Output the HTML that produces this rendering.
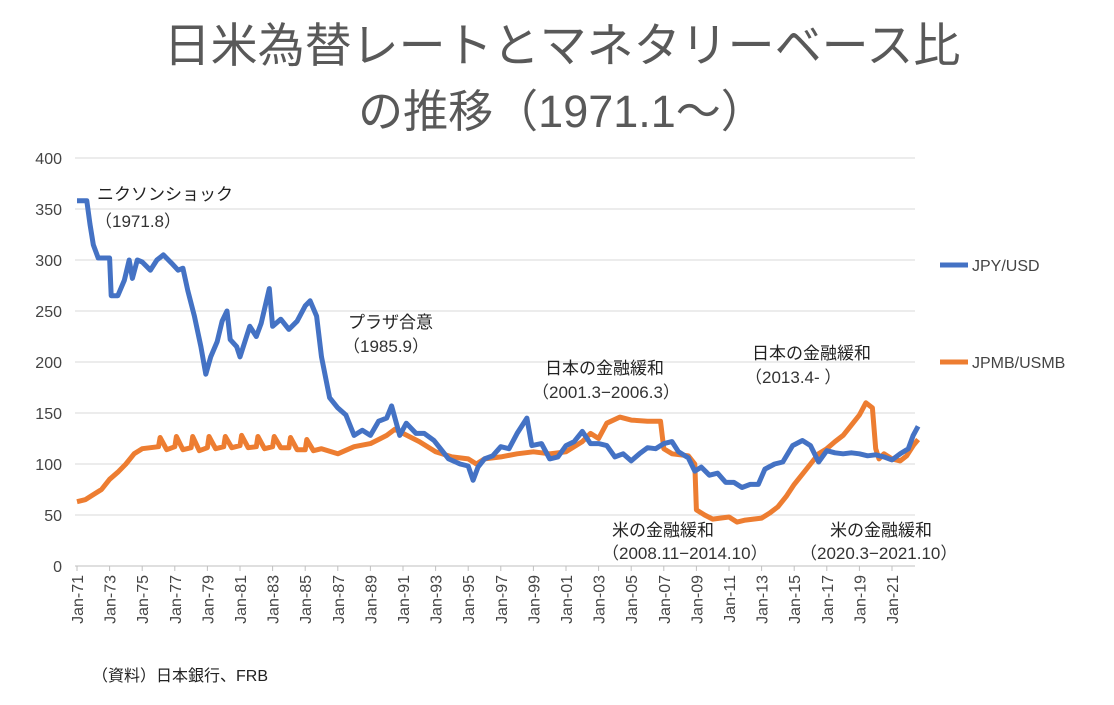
<!DOCTYPE html>
<html><head><meta charset="utf-8">
<style>
html,body{margin:0;padding:0;background:#fff;}
body{width:1114px;height:700px;overflow:hidden;font-family:"Liberation Sans","Noto Sans CJK JP",sans-serif;}
</style></head>
<body>
<svg id="chart" width="1114" height="700" xmlns="http://www.w3.org/2000/svg" font-family="Liberation Sans, Noto Sans CJK JP, sans-serif">
<text x="562" y="62" font-size="47" fill="#595959" text-anchor="middle">日米為替レートとマネタリーベース比</text>
<text x="562" y="127" font-size="45" fill="#595959" text-anchor="middle">の推移（1971.1～）</text>
<g id="grid"></g>
<g id="yticks"></g>
<g id="xticks"></g>
<g id="series"></g>
<g font-size="17" fill="#222">
<text x="97" y="200">ニクソンショック</text>
<text x="95" y="227" fill="#333">（1971.8）</text>
<text x="348" y="328">プラザ合意</text>
<text x="343" y="352" fill="#333">（1985.9）</text>
<text x="545" y="374">日本の金融緩和</text>
<text x="532" y="398" fill="#333">（2001.3−2006.3）</text>
<text x="752" y="359">日本の金融緩和</text>
<text x="745" y="383" fill="#333">（2013.4-  ）</text>
<text x="612" y="536">米の金融緩和</text>
<text x="602" y="559" fill="#333">（2008.11−2014.10）</text>
<text x="830" y="536">米の金融緩和</text>
<text x="800" y="559" fill="#333">（2020.3−2021.10）</text>
</g>
<g font-size="16" fill="#444">
<line x1="940" y1="265" x2="968" y2="265" stroke="#4472C4" stroke-width="5"/>
<text x="972" y="271">JPY/USD</text>
<line x1="940" y1="362" x2="968" y2="362" stroke="#ED7D31" stroke-width="5"/>
<text x="972" y="368">JPMB/USMB</text>
</g>
<text x="92" y="681" font-size="16" fill="#222">（資料）日本銀行、FRB</text>
</svg>
<script>
const yTicks=[0,50,100,150,200,250,300,350,400];
const xTickYears=[1971,1973,1975,1977,1979,1981,1983,1985,1987,1989,1991,1993,1995,1997,1999,2001,2003,2005,2007,2009,2011,2013,2015,2017,2019,2021];
const jpyT=[1971.0,1971.6,1971.8,1972.0,1972.3,1973.0,1973.1,1973.5,1973.9,1974.2,1974.4,1974.7,1975.0,1975.5,1975.9,1976.3,1976.8,1977.2,1977.5,1977.8,1978.2,1978.6,1978.9,1979.2,1979.6,1979.9,1980.2,1980.4,1980.8,1981.0,1981.3,1981.6,1982.0,1982.3,1982.8,1983.0,1983.5,1984.0,1984.5,1985.0,1985.3,1985.7,1986.0,1986.5,1987.0,1987.5,1988.0,1988.5,1989.0,1989.5,1990.0,1990.3,1990.8,1991.2,1991.8,1992.3,1992.9,1993.3,1993.8,1994.5,1995.0,1995.3,1995.6,1996.0,1996.5,1997.0,1997.5,1998.0,1998.6,1998.9,1999.5,2000.0,2000.5,2001.0,2001.5,2002.0,2002.5,2003.0,2003.5,2004.0,2004.5,2005.0,2005.5,2006.0,2006.5,2007.0,2007.5,2007.9,2008.5,2008.9,2009.3,2009.8,2010.3,2010.8,2011.3,2011.8,2012.3,2012.8,2013.2,2013.8,2014.3,2014.9,2015.5,2016.0,2016.5,2017.0,2017.5,2018.0,2018.5,2019.0,2019.5,2020.0,2020.5,2021.0,2021.5,2022.0,2022.3,2022.6];
const jpyV=[358,358,335,315,302,302,265,265,280,300,282,300,298,290,300,305,297,290,292,270,245,215,188,205,220,240,250,222,215,205,220,235,225,238,272,235,242,232,240,255,260,245,205,165,155,148,128,133,128,142,145,157,128,140,130,130,123,115,105,100,98,84,97,105,108,117,115,130,145,118,120,105,107,118,122,132,120,120,118,107,110,103,110,116,115,120,122,112,106,93,97,89,91,82,82,77,80,80,95,100,102,118,123,118,102,113,111,110,111,110,108,109,107,104,110,115,128,137];
const mbT=[1971.0,1971.5,1972.0,1972.5,1973.0,1973.5,1974.0,1974.5,1975.0,1975.5,1976.0,1976.1,1976.5,1977.0,1977.1,1977.5,1978.0,1978.1,1978.5,1979.0,1979.1,1979.5,1980.0,1980.1,1980.5,1981.0,1981.1,1981.5,1982.0,1982.1,1982.5,1983.0,1983.1,1983.5,1984.0,1984.1,1984.5,1985.0,1985.1,1985.5,1986.0,1987.0,1988.0,1989.0,1990.0,1990.5,1991.0,1992.0,1993.0,1994.0,1995.0,1995.5,1996.0,1997.0,1998.0,1999.0,2000.0,2001.0,2002.0,2002.5,2003.0,2003.5,2004.3,2005.0,2006.0,2006.8,2007.0,2007.5,2008.5,2008.9,2009.0,2009.5,2010.0,2011.0,2011.5,2012.0,2013.0,2013.5,2014.0,2014.5,2015.0,2015.5,2016.0,2016.5,2017.0,2017.5,2018.0,2018.5,2019.0,2019.4,2019.8,2020.0,2020.2,2020.5,2021.0,2021.5,2021.9,2022.3,2022.6];
const mbV=[63,65,70,75,85,92,100,110,115,116,117,126,114,117,127,114,116,127,113,116,127,115,117,127,116,118,128,116,117,127,115,117,127,116,116,126,114,114,124,113,115,110,117,120,128,134,130,122,112,107,105,100,105,107,110,112,110,112,122,130,125,140,146,143,142,142,115,110,108,100,55,50,46,48,43,45,47,52,58,68,80,90,100,110,115,122,128,138,148,160,155,115,105,110,105,103,108,118,124];
const X0=77, PX_PER_YEAR=16.3, Y0=566, PX_PER_UNIT=1.02;
const xs=t=>X0+(t-1971)*PX_PER_YEAR;
const ys=v=>Y0-v*PX_PER_UNIT;
const NS="http://www.w3.org/2000/svg";
const grid=document.getElementById('grid'), yt=document.getElementById('yticks'), xt=document.getElementById('xticks'), ser=document.getElementById('series');
yTicks.forEach(v=>{
  const l=document.createElementNS(NS,'line');
  
  
  l.setAttribute('x1',75);l.setAttribute('x2',915);l.setAttribute('y1',ys(v));l.setAttribute('y2',ys(v));
  l.setAttribute('stroke',v===0?'#bfbfbf':'#d9d9d9');l.setAttribute('stroke-width',1);
  grid.appendChild(l);
  const t=document.createElementNS(NS,'text');
  
  
  t.setAttribute('x',62);t.setAttribute('y',ys(v)+6);t.setAttribute('text-anchor','end');
  t.setAttribute('font-size',16);t.setAttribute('fill','#444');t.textContent=v;
  yt.appendChild(t);
});
xTickYears.forEach(yr=>{
  const x=xs(yr);
  const l=document.createElementNS(NS,'line');
  
  
  l.setAttribute('x1',x);l.setAttribute('x2',x);l.setAttribute('y1',566);l.setAttribute('y2',571);
  l.setAttribute('stroke','#bfbfbf');
  xt.appendChild(l);
  const t=document.createElementNS(NS,'text');
  
  
  t.setAttribute('transform','translate('+(x+6)+',575) rotate(-90)');
  t.setAttribute('text-anchor','end');t.setAttribute('font-size',16);t.setAttribute('fill','#444');
  t.textContent='Jan-'+String(yr%100).padStart(2,'0');
  xt.appendChild(t);
});
function drawLine(T,V,color,name){
  const p=document.createElementNS(NS,'polyline');
  
  
  p.setAttribute('points',T.map((t,i)=>xs(t).toFixed(1)+','+ys(V[i]).toFixed(1)).join(' '));
  p.setAttribute('fill','none');p.setAttribute('stroke',color);p.setAttribute('stroke-width',5);
  p.setAttribute('stroke-linejoin','round');
  ser.appendChild(p);
}
drawLine(mbT,mbV,'#ED7D31','line-jpmb-usmb');
drawLine(jpyT,jpyV,'#4472C4','line-jpy-usd');
</script>
</body></html>
